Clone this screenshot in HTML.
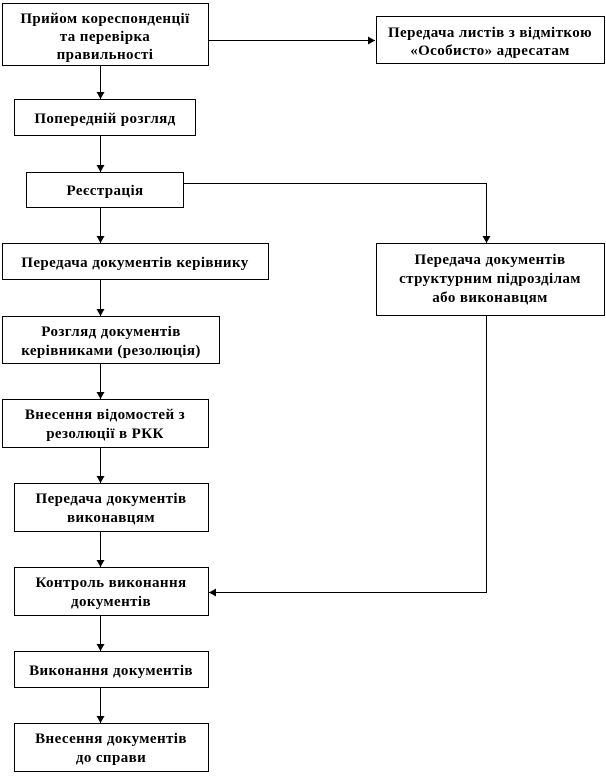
<!DOCTYPE html>
<html><head><meta charset="utf-8"><style>
html,body{margin:0;padding:0;background:#fff;}
svg text{font-family:"Liberation Serif","DejaVu Serif",serif;font-weight:bold;font-size:15px;letter-spacing:0.4px;fill:#000;text-anchor:middle;}
</style></head><body>
<svg width="606" height="774" viewBox="0 0 606 774" xmlns="http://www.w3.org/2000/svg">
<defs><marker id="a" markerWidth="8" markerHeight="8" refX="7" refY="4" orient="auto" markerUnits="userSpaceOnUse"><path d="M0,0 L7,4 L0,8 z" fill="#000"/></marker></defs>
<g fill="none" stroke="#000" stroke-width="1">
<rect x="2.5" y="3.5" width="206" height="62"/>
<rect x="376.5" y="16.5" width="228" height="47"/>
<rect x="14.5" y="99.5" width="181" height="36"/>
<rect x="26.5" y="172.5" width="157" height="35"/>
<rect x="2.5" y="243.5" width="266" height="36"/>
<rect x="376.5" y="243.5" width="228" height="72"/>
<rect x="2.5" y="316.5" width="217" height="47"/>
<rect x="2.5" y="399.5" width="206" height="48"/>
<rect x="14.5" y="483.5" width="194" height="48"/>
<rect x="14.5" y="567.5" width="194" height="48"/>
<rect x="14.5" y="651.5" width="194" height="36"/>
<rect x="14.5" y="723.5" width="194" height="48"/>
<path d="M208.5 40.5 H375" marker-end="url(#a)"/>
<path d="M100.5 66 V99" marker-end="url(#a)"/>
<path d="M100.5 136 V172" marker-end="url(#a)"/>
<path d="M100.5 208 V243" marker-end="url(#a)"/>
<path d="M100.5 280 V316" marker-end="url(#a)"/>
<path d="M100.5 364 V399" marker-end="url(#a)"/>
<path d="M100.5 448 V483" marker-end="url(#a)"/>
<path d="M100.5 532 V567" marker-end="url(#a)"/>
<path d="M100.5 616 V651" marker-end="url(#a)"/>
<path d="M100.5 688 V723" marker-end="url(#a)"/>
<path d="M184 183.5 H486.5 V243" marker-end="url(#a)"/>
<path d="M486.5 316 V592.5 H209" marker-end="url(#a)"/>
</g>
<text x="105" y="23">Прийом кореспонденції</text>
<text x="105" y="41">та перевірка</text>
<text x="105" y="59">правильності</text>
<text x="490" y="37">Передача листів з відміткою</text>
<text x="490" y="55">«Особисто» адресатам</text>
<text x="105" y="123">Попередній розгляд</text>
<text x="105" y="195">Реєстрація</text>
<text x="135" y="267">Передача документів керівнику</text>
<text x="490" y="264">Передача документів</text>
<text x="490" y="283">структурним підрозділам</text>
<text x="490" y="302">або виконавцям</text>
<text x="111" y="336">Розгляд документів</text>
<text x="111" y="355">керівниками (резолюція)</text>
<text x="105" y="419">Внесення відомостей  з</text>
<text x="105" y="438">резолюції в РКК</text>
<text x="111" y="503">Передача документів</text>
<text x="111" y="522">виконавцям</text>
<text x="111" y="587">Контроль виконання</text>
<text x="111" y="606">документів</text>
<text x="111" y="675">Виконання документів</text>
<text x="111" y="743">Внесення документів</text>
<text x="111" y="762">до справи</text>
</svg>
</body></html>
